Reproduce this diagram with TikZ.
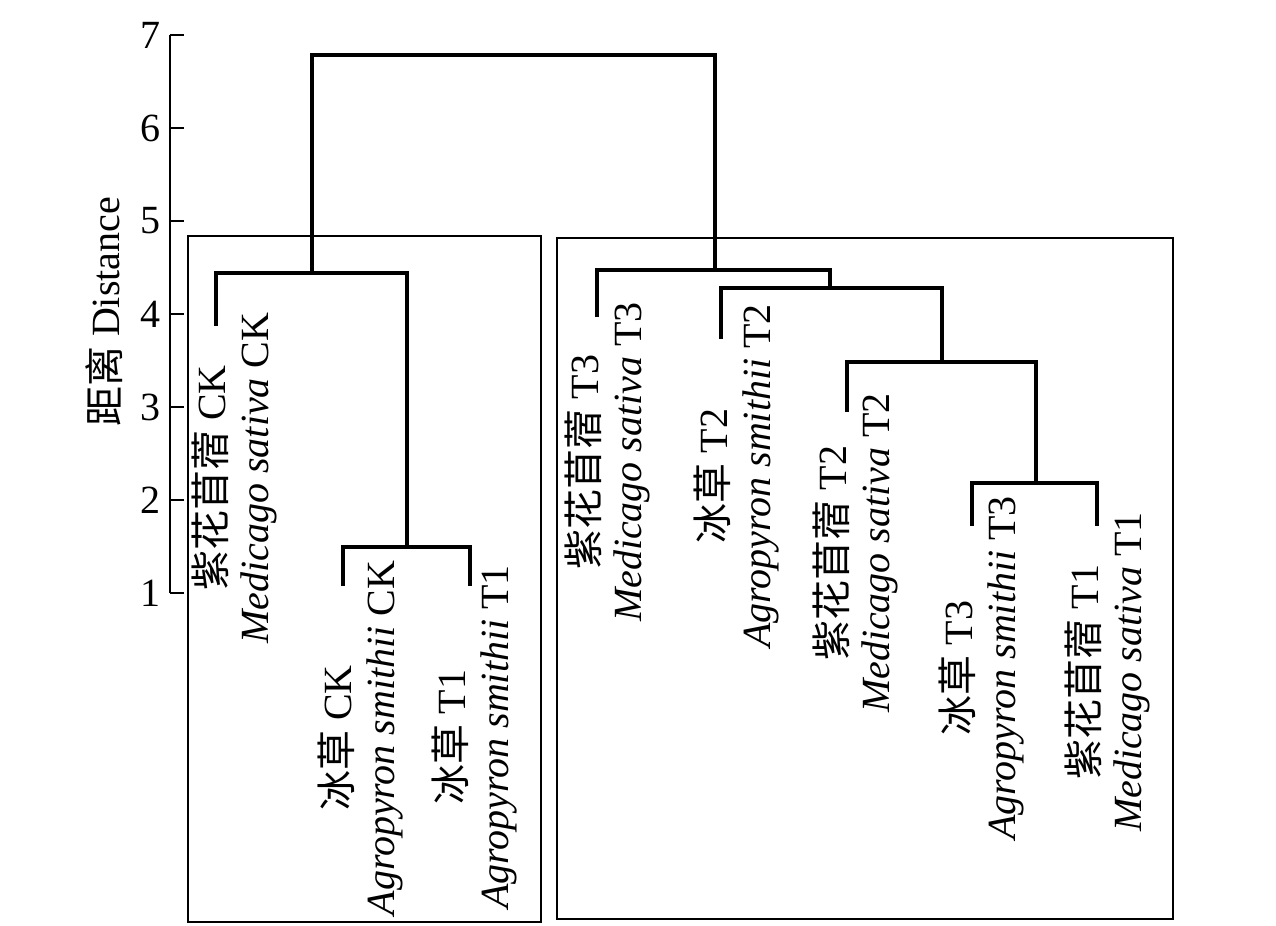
\documentclass[tikz,border=0pt]{standalone}
\usepackage{fontspec}
\setmainfont{Liberation Serif}
\newfontfamily\cjk{Noto Sans CJK SC}
\begin{document}
\begin{tikzpicture}[x=0.5pt,y=-0.5pt,
  dendro/.style={line width=1.75pt},
  framebox/.style={line width=0.65pt},
  axisline/.style={line width=0.9pt},
  lab/.style={rotate=90, align=center, inner sep=0pt, font=\fontsize{20}{21.5}\selectfont},
  ticklab/.style={anchor=east, inner sep=0pt, font=\fontsize{20}{24}\selectfont}]
\useasboundingbox (0,0) rectangle (1276,926);
% frames
\draw[framebox] (188,236) rectangle (541,922);
\draw[framebox] (557,238) rectangle (1173,919);
% axis
\coordinate (axtop) at (170,35);
\coordinate (axbot) at (170,593);
\draw[axisline] (axtop) -- (axbot);
\foreach \d in {1,...,7} {
  \coordinate (tk\d) at (170,{593-93*(\d-1)});
  \draw[axisline] (tk\d) -- ++(14,0);
  \node[ticklab] (tn\d) at (161,{593-93*(\d-1)}) {\d};
}
\node[rotate=90, inner sep=0pt, font=\fontsize{20}{24}\selectfont] (axl) at (104,312) {{\cjk 距离} Distance};
% merge points
\coordinate (R) at (513,55);
\coordinate (A) at (312,273);
\coordinate (B) at (407,547);
\coordinate (C) at (715,270);
\coordinate (D) at (830,288);
\coordinate (E) at (942,362);
\coordinate (F) at (1036,483);
% leaves
\coordinate (l1) at (216,326);
\coordinate (l2) at (343,586);
\coordinate (l3) at (470,586);
\coordinate (l4) at (597,317);
\coordinate (l5) at (721,339);
\coordinate (l6) at (847,412);
\coordinate (l7) at (972,526);
\coordinate (l8) at (1097,526);
% dendrogram
\draw[dendro] (A) |- (R) -| (C);
\draw[dendro] (l1) |- (A) -| (B);
\draw[dendro] (l2) |- (B) -| (l3);
\draw[dendro] (l4) |- (C) -| (D);
\draw[dendro] (l5) |- (D) -| (E);
\draw[dendro] (l6) |- (E) -| (F);
\draw[dendro] (l7) |- (F) -| (l8);
% labels
\node[lab] (t1) at (234,478) {{\cjk 紫花苜蓿} CK\\\textit{Medicago sativa} CK};
\node[lab] (t2) at (361,738) {{\cjk 冰草} CK\\\textit{Agropyron smithii} CK};
\node[lab] (t3) at (475,737) {{\cjk 冰草} T1\\\textit{Agropyron smithii} T1};
\node[lab] (t4) at (607,462) {{\cjk 紫花苜蓿} T3\\\textit{Medicago sativa} T3};
\node[lab] (t5) at (737,476) {{\cjk 冰草} T2\\\textit{Agropyron smithii} T2};
\node[lab] (t6) at (855,553) {{\cjk 紫花苜蓿} T2\\\textit{Medicago sativa} T2};
\node[lab] (t7) at (982,668) {{\cjk 冰草} T3\\\textit{Agropyron smithii} T3};
\node[lab] (t8) at (1107,672) {{\cjk 紫花苜蓿} T1\\\textit{Medicago sativa} T1};
\end{tikzpicture}
\end{document}
